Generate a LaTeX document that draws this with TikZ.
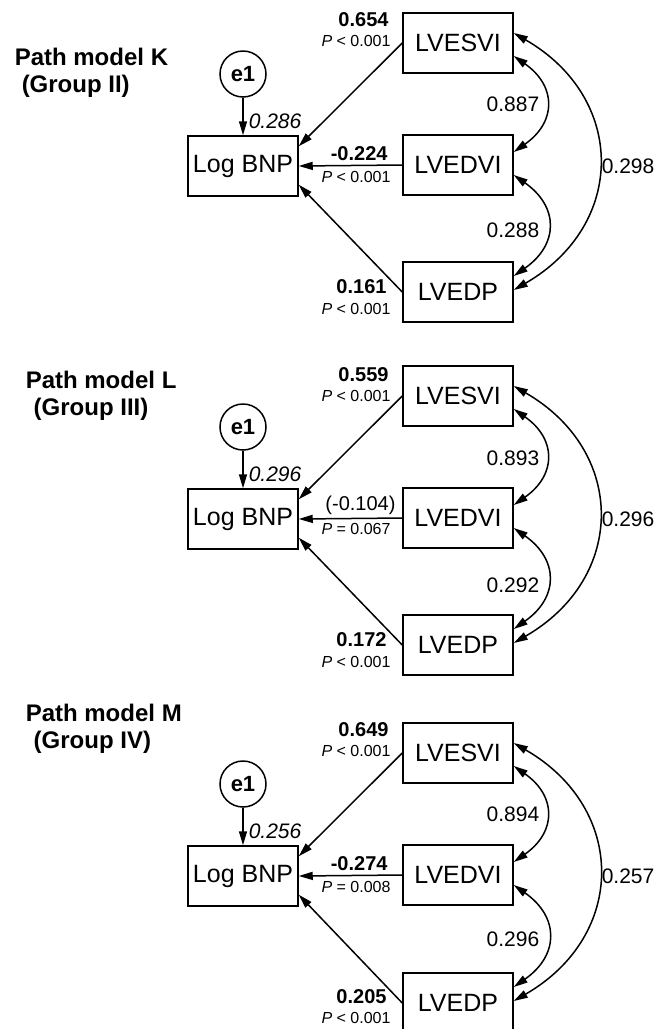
\documentclass[tikz,border=0pt]{standalone}
\usepackage{fontspec}
\setmainfont{Liberation Sans}
\usetikzlibrary{arrows.meta}

\begin{document}
\begin{tikzpicture}[x=1pt,y=1pt,line width=1.5pt,
  box/.style={draw,minimum width=110pt,minimum height=60pt,inner sep=0pt,font=\fontsize{25}{28}\selectfont},
  err/.style={draw,circle,minimum size=46pt,inner sep=0pt,font=\fontsize{22}{24}\selectfont\bfseries},
  reg/.style={-{Triangle[length=14pt,width=8pt]}},
  cov/.style={{Triangle[length=14pt,width=8pt]}-{Triangle[length=14pt,width=8pt]}},
  coef/.style={anchor=east,inner sep=0pt,font=\fontsize{20}{22}\selectfont\bfseries},
  pval/.style={anchor=east,inner sep=0pt,font=\fontsize{16}{18}\selectfont},
  resid/.style={anchor=west,inner sep=0pt,font=\fontsize{21}{24}\selectfont\itshape},
  covlab/.style={inner sep=0pt,font=\fontsize{21}{24}\selectfont},
  title/.style={anchor=west,align=left,inner sep=0pt,font=\fontsize{24}{27}\selectfont\bfseries}]

\useasboundingbox (0,0) rectangle (655,-1029);

% Group II
\begin{scope}
\node[title] (titleK) at (14,-73) {Path model K\\\hspace*{7pt}(Group II)};
\node[box] (bnpK) at (243,-166) {Log BNP};
\node[err] (e1K) at (243,-74) {e1};
\node[box] (esviK) at (458,-43) {LVESVI};
\node[box] (edviK) at (458,-165) {LVEDVI};
\node[box] (edpK) at (458,-292) {LVEDP};
\draw[reg] (e1K) -- (bnpK);
\draw[reg] (esviK.west) -- ([yshift=-11pt]bnpK.north east);
\draw[reg] (edviK.west) -- (bnpK.east);
\draw[reg] (edpK.west) -- ([yshift=12pt]bnpK.south east);
\draw[cov] ([yshift=-13pt]esviK.east) to[out=-35,in=35,looseness=1.4] ([yshift=13pt]edviK.east);
\draw[cov] ([yshift=-10pt]edviK.east) to[out=-35,in=35,looseness=1.4] ([yshift=16pt]edpK.east);
\draw[cov] ([yshift=10pt]esviK.east) to[out=-30,in=30,looseness=1.3] ([yshift=2pt]edpK.east);
\node[resid] at ([xshift=5pt,yshift=14pt]bnpK.north) {0.286};
\node[coef] at ([xshift=-13pt,yshift=23pt]esviK.west) {0.654};
\node[pval] at ([xshift=-11pt,yshift=2pt]esviK.west) {\textit{P} < 0.001};
\node[coef] at ([xshift=-14pt,yshift=11pt]edviK.west) {-0.224};
\node[pval] at ([xshift=-11pt,yshift=-12pt]edviK.west) {\textit{P} < 0.001};
\node[coef] at ([xshift=-15pt,yshift=5pt]edpK.west) {0.161};
\node[pval] at ([xshift=-11pt,yshift=-17pt]edpK.west) {\textit{P} < 0.001};
\node[covlab,anchor=east] at (540,-104) {0.887};
\node[covlab,anchor=east] at (540,-230) {0.288};
\node[covlab,anchor=west] at (601,-166) {0.298};
\end{scope}

% Group III
\begin{scope}[yshift=-353pt]
\node[title] (titleL) at (25,-43) {Path model L\\\hspace*{8pt}(Group III)};
\node[box] (bnpL) at (243,-166) {Log BNP};
\node[err] (e1L) at (243,-74) {e1};
\node[box] (esviL) at (458,-43) {LVESVI};
\node[box] (edviL) at (458,-165) {LVEDVI};
\node[box] (edpL) at (458,-292) {LVEDP};
\draw[reg] (e1L) -- (bnpL);
\draw[reg] (esviL.west) -- ([yshift=-11pt]bnpL.north east);
\draw[reg] (edviL.west) -- (bnpL.east);
\draw[reg] (edpL.west) -- ([yshift=12pt]bnpL.south east);
\draw[cov] ([yshift=-13pt]esviL.east) to[out=-35,in=35,looseness=1.4] ([yshift=13pt]edviL.east);
\draw[cov] ([yshift=-10pt]edviL.east) to[out=-35,in=35,looseness=1.4] ([yshift=16pt]edpL.east);
\draw[cov] ([yshift=10pt]esviL.east) to[out=-30,in=30,looseness=1.3] ([yshift=2pt]edpL.east);
\node[resid] at ([xshift=5pt,yshift=14pt]bnpL.north) {0.296};
\node[coef] at ([xshift=-13pt,yshift=21pt]esviL.west) {0.559};
\node[pval] at ([xshift=-11pt,yshift=0pt]esviL.west) {\textit{P} < 0.001};
\node[coef,font=\fontsize{20}{22}\selectfont] at ([xshift=-6pt,yshift=13pt]edviL.west) {(-0.104)};
\node[pval] at ([xshift=-11pt,yshift=-11pt]edviL.west) {\textit{P} = 0.067};
\node[coef] at ([xshift=-15pt,yshift=5pt]edpL.west) {0.172};
\node[pval] at ([xshift=-11pt,yshift=-17pt]edpL.west) {\textit{P} < 0.001};
\node[covlab,anchor=east] at (540,-105) {0.893};
\node[covlab,anchor=east] at (540,-232) {0.292};
\node[covlab,anchor=west] at (601,-166) {0.296};
\end{scope}

% Group IV
\begin{scope}[yshift=-710pt]
\node[title] (titleM) at (25,-18.5) {Path model M\\\hspace*{8pt}(Group IV)};
\node[box] (bnpM) at (243,-166) {Log BNP};
\node[err] (e1M) at (243,-74) {e1};
\node[box] (esviM) at (458,-43) {LVESVI};
\node[box] (edviM) at (458,-165) {LVEDVI};
\node[box] (edpM) at (458,-293) {LVEDP};
\draw[reg] (e1M) -- (bnpM);
\draw[reg] (esviM.west) -- ([yshift=-11pt]bnpM.north east);
\draw[reg] (edviM.west) -- (bnpM.east);
\draw[reg] (edpM.west) -- ([yshift=12pt]bnpM.south east);
\draw[cov] ([yshift=-13pt]esviM.east) to[out=-35,in=35,looseness=1.4] ([yshift=13pt]edviM.east);
\draw[cov] ([yshift=-10pt]edviM.east) to[out=-35,in=35,looseness=1.4] ([yshift=16pt]edpM.east);
\draw[cov] ([yshift=10pt]esviM.east) to[out=-30,in=30,looseness=1.3] ([yshift=2pt]edpM.east);
\node[resid] at ([xshift=5pt,yshift=14pt]bnpM.north) {0.256};
\node[coef] at ([xshift=-13pt,yshift=23pt]esviM.west) {0.649};
\node[pval] at ([xshift=-11pt,yshift=2pt]esviM.west) {\textit{P} < 0.001};
\node[coef] at ([xshift=-14pt,yshift=11pt]edviM.west) {-0.274};
\node[pval] at ([xshift=-11pt,yshift=-12pt]edviM.west) {\textit{P} = 0.008};
\node[coef] at ([xshift=-15pt,yshift=6pt]edpM.west) {0.205};
\node[pval] at ([xshift=-11pt,yshift=-15pt]edpM.west) {\textit{P} < 0.001};
\node[covlab,anchor=east] at (540,-104) {0.894};
\node[covlab,anchor=east] at (540,-229) {0.296};
\node[covlab,anchor=west] at (601,-166) {0.257};
\end{scope}
\end{tikzpicture}
\end{document}
